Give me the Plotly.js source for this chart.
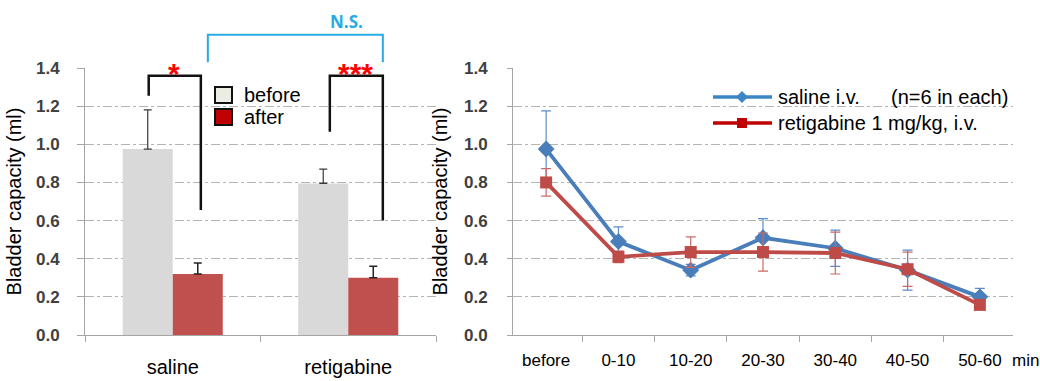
<!DOCTYPE html>
<html>
<head>
<meta charset="utf-8">
<script src="https://cdn.plot.ly/plotly-3.0.1.min.js"></script>
<style>html,body{margin:0;padding:0;background:#fff;}#chart{width:1040px;height:381px;}</style>
</head>
<body>
<div id="chart"></div>
<script>
// ---- data ----
const groupCategories = ['saline', 'retigabine'];
const beforeMean = [0.975, 0.795];
const beforeErr = [0.205, 0.075];
const afterMean = [0.32, 0.30];
const afterErr = [0.058, 0.06];

const timeLabels = ['before', '0-10', '10-20', '20-30', '30-40', '40-50', '50-60'];
const salineMean = [0.975, 0.49, 0.34, 0.51, 0.455, 0.34, 0.2];
const salineErr = [0.2, 0.077, 0.03, 0.1, 0.095, 0.105, 0.045];
const retigMean = [0.80, 0.41, 0.435, 0.435, 0.43, 0.345, 0.158];
const retigErr = [0.072, 0.03, 0.08, 0.1, 0.11, 0.09, 0.02];

const seriesNames = ['saline i.v.', 'retigabine 1 mg/kg, i.v.'];
const barNames = ['before', 'after'];
const yTickVals = [0, 0.2, 0.4, 0.6, 0.8, 1.0, 1.2, 1.4];

// significance brackets (category index, value)
const sigBrackets = [
  {x0: -0.137, x1: 0.16, top: 1.36, leftEnd: 1.255, rightEnd: 0.655, label: '*', lx: 0.005},
  {x0: 0.895, x1: 1.197, top: 1.36, leftEnd: 1.066, rightEnd: 0.60, label: '***', lx: 1.04}
];
const nsBracket = {x0: 0.2, x1: 1.197, top: 1.575, end: 1.43, label: 'N.S.'};

// ---- geometry helpers ----
const W = 1040, H = 381;
const yDom = [0.1207, 0.8215], yRange = [0, 1.4];
const xDomL = [85 / W, 436 / W], xRangeL = [-0.5, 1.5];
const xDomR = [513 / W, 1013 / W];
function px(x) { return xDomL[0] + (x - xRangeL[0]) / (xRangeL[1] - xRangeL[0]) * (xDomL[1] - xDomL[0]); }
function py(v) { return yDom[0] + (v - yRange[0]) / (yRange[1] - yRange[0]) * (yDom[1] - yDom[0]); }
function pp(pix) { return pix / W; }
function ppy(pix) { return 1 - pix / H; }

const FONT = 'Liberation Sans, Arial, sans-serif';
const BLUE = '#4a7ebb', RED = '#be4b48';

const traces = [
  {type: 'bar', x: groupCategories, y: beforeMean, name: barNames[0], xaxis: 'x', yaxis: 'y',
   marker: {color: '#d9d9d9'},
   error_y: {type: 'data', symmetric: false, array: beforeErr, arrayminus: [0, 0], color: '#3a3a3a', thickness: 1.2, width: 4},
   hoverinfo: 'skip', showlegend: false},
  {type: 'bar', x: groupCategories, y: afterMean, name: barNames[1], xaxis: 'x', yaxis: 'y',
   marker: {color: '#c0504d'},
   error_y: {type: 'data', symmetric: false, array: afterErr, arrayminus: [0, 0], color: '#222', thickness: 1.5, width: 4},
   hoverinfo: 'skip', showlegend: false},
  {type: 'scatter', mode: 'lines+markers', x: timeLabels, y: salineMean, name: seriesNames[0], xaxis: 'x2', yaxis: 'y2',
   line: {color: BLUE, width: 3.8}, marker: {symbol: 'diamond', size: 13, color: BLUE},
   error_y: {type: 'data', array: salineErr, color: '#5b8ccc', thickness: 1.2, width: 5},
   showlegend: false, cliponaxis: false},
  {type: 'scatter', mode: 'lines+markers', x: timeLabels, y: retigMean, name: seriesNames[1], xaxis: 'x2', yaxis: 'y2',
   line: {color: RED, width: 3.8}, marker: {symbol: 'square', size: 12, color: RED},
   error_y: {type: 'data', array: retigErr, color: '#cc6a67', thickness: 1.2, width: 5},
   showlegend: false, cliponaxis: false}
];

const shapes = [];
const annotations = [];

// brackets
sigBrackets.forEach(b => {
  shapes.push({type: 'path', xref: 'paper', yref: 'paper',
    path: `M ${px(b.x0)} ${py(b.leftEnd)} L ${px(b.x0)} ${py(b.top)} L ${px(b.x1)} ${py(b.top)} L ${px(b.x1)} ${py(b.rightEnd)}`,
    line: {color: '#111', width: 2.5}});
  annotations.push({xref: 'paper', yref: 'paper', x: px(b.lx), y: py(1.36) + 0.005, text: b.label, showarrow: false,
    xanchor: 'center', yanchor: 'middle', font: {family: FONT, size: 30, color: '#ff0000', weight: 'bold'}});
});
shapes.push({type: 'path', xref: 'paper', yref: 'paper',
  path: `M ${px(nsBracket.x0)} ${py(nsBracket.end)} L ${px(nsBracket.x0)} ${py(nsBracket.top)} L ${px(nsBracket.x1)} ${py(nsBracket.top)} L ${px(nsBracket.x1)} ${py(nsBracket.end)}`,
  line: {color: '#29abe2', width: 2}});
annotations.push({xref: 'paper', yref: 'paper', x: pp(346), y: ppy(22), text: nsBracket.label, showarrow: false,
  xanchor: 'center', yanchor: 'middle', font: {family: 'Open Sans, sans-serif', size: 17, color: '#29abe2', weight: 'bold'}});

// left legend (manual)
const legBoxes = [{y0: 87, y1: 103, fill: '#ececE4'}, {y0: 109, y1: 125, fill: '#c00000'}];
legBoxes.forEach((bx, i) => {
  shapes.push({type: 'rect', xref: 'paper', yref: 'paper', x0: pp(215), x1: pp(232), y0: ppy(bx.y1), y1: ppy(bx.y0),
    fillcolor: bx.fill, line: {color: '#111', width: 2}});
  annotations.push({xref: 'paper', yref: 'paper', x: pp(242), y: ppy((bx.y0 + bx.y1) / 2), text: barNames[i], showarrow: false,
    xanchor: 'left', yanchor: 'middle', font: {family: FONT, size: 20, color: '#000'}});
});

// right legend (manual)
const legLines = [{y: 97, color: '#3d86c6', sym: 'diamond'}, {y: 123, color: '#c00000', sym: 'square'}];
legLines.forEach((ln, i) => {
  shapes.push({type: 'line', xref: 'paper', yref: 'paper', x0: pp(713), x1: pp(772), y0: ppy(ln.y), y1: ppy(ln.y),
    line: {color: ln.color, width: 3.5}});
  if (ln.sym === 'diamond') {
    const cx = 742, cy = ln.y, r = 6;
    shapes.push({type: 'path', xref: 'paper', yref: 'paper',
      path: `M ${pp(cx - r)} ${ppy(cy)} L ${pp(cx)} ${ppy(cy - r)} L ${pp(cx + r)} ${ppy(cy)} L ${pp(cx)} ${ppy(cy + r)} Z`,
      fillcolor: ln.color, line: {color: ln.color, width: 0}});
  } else {
    shapes.push({type: 'rect', xref: 'paper', yref: 'paper', x0: pp(737), x1: pp(747), y0: ppy(ln.y + 5), y1: ppy(ln.y - 5),
      fillcolor: ln.color, line: {width: 0}});
  }
  annotations.push({xref: 'paper', yref: 'paper', x: pp(776), y: ppy(ln.y), text: seriesNames[i], showarrow: false,
    xanchor: 'left', yanchor: 'middle', font: {family: FONT, size: 20, color: '#000'}});
});
annotations.push({xref: 'paper', yref: 'paper', x: pp(889), y: ppy(97), text: '(n=6 in each)', showarrow: false,
  xanchor: 'left', yanchor: 'middle', font: {family: FONT, size: 20, color: '#000'}});
annotations.push({xref: 'paper', yref: 'paper', x: pp(1025), y: ppy(360), text: 'min', showarrow: false,
  xanchor: 'center', yanchor: 'middle', font: {family: FONT, size: 17, color: '#000'}});

const yAxisCommon = {
  domain: yDom, range: yRange, tickvals: yTickVals, tickformat: '.1f',
  showgrid: true, gridcolor: '#b3b3b3', griddash: 'dashdot', gridwidth: 1,
  showline: true, linecolor: '#a6a6a6', linewidth: 1,
  ticks: 'outside', tickcolor: '#a6a6a6', zeroline: false, fixedrange: true
};
const xAxisCommon = {
  type: 'category', tickson: 'boundaries', ticks: 'outside', ticklen: 6, tickcolor: '#a6a6a6',
  showline: true, linecolor: '#a6a6a6', linewidth: 1, showgrid: false, zeroline: false, fixedrange: true
};

const layout = {
  width: W, height: H, autosize: false,
  margin: {l: 0, r: 0, t: 0, b: 0},
  paper_bgcolor: '#fff', plot_bgcolor: '#fff',
  barmode: 'group', bargap: 0.43, bargroupgap: 0,
  showlegend: false,
  xaxis: Object.assign({}, xAxisCommon, {domain: xDomL, range: xRangeL, anchor: 'y',
    tickfont: {family: FONT, size: 20, color: '#000'}, ticklabelstandoff: 14}),
  yaxis: Object.assign({}, yAxisCommon, {anchor: 'x', ticklen: 7, ticklabelstandoff: 14,
    tickfont: {family: FONT, size: 17, color: '#404040', weight: 'bold'},
    title: {text: 'Bladder capacity (ml)', font: {family: FONT, size: 20, color: '#000'}, standoff: 8}}),
  xaxis2: Object.assign({}, xAxisCommon, {domain: xDomR, anchor: 'y2',
    tickfont: {family: FONT, size: 17, color: '#000'}, ticklabelstandoff: 10}),
  yaxis2: Object.assign({}, yAxisCommon, {anchor: 'x2', ticklen: 5, ticklabelstandoff: 16,
    tickfont: {family: FONT, size: 17, color: '#404040', weight: 'bold'},
    title: {text: 'Bladder capacity (ml)', font: {family: FONT, size: 20, color: '#000'}, standoff: 10}}),
  shapes: shapes,
  annotations: annotations
};

Plotly.newPlot('chart', traces, layout, {staticPlot: true, displayModeBar: false});
</script>
</body>
</html>
